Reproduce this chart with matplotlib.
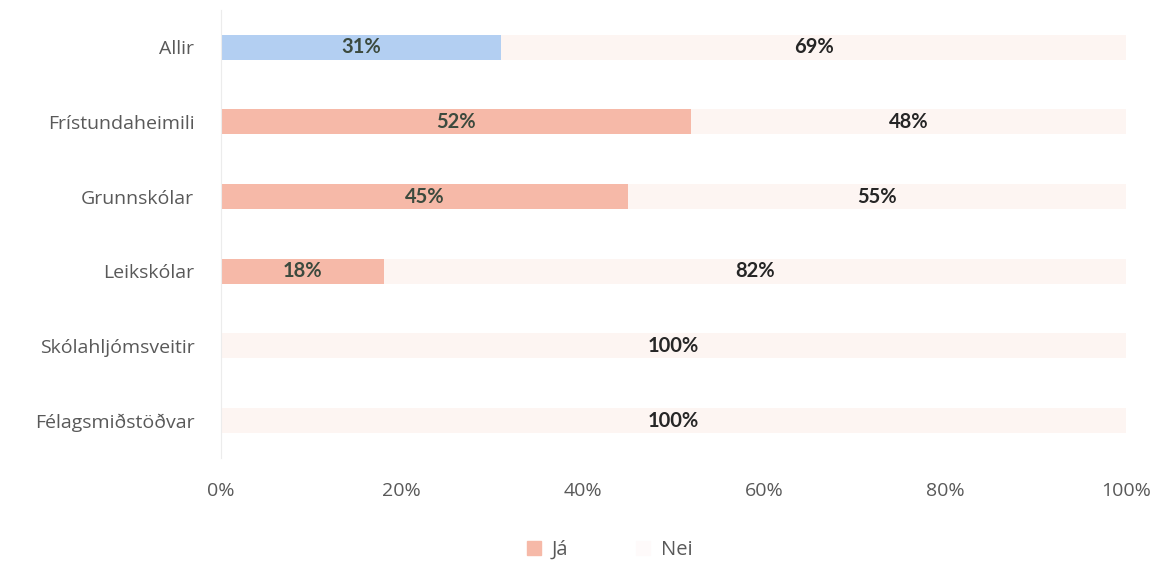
import matplotlib
matplotlib.use("Agg")
import matplotlib.pyplot as plt
from matplotlib.patches import Patch

categories = ["Allir", "Frístundaheimili", "Grunnskólar", "Leikskólar", "Skólahljómsveitir", "Félagsmiðstöðvar"]
ja = [31, 52, 45, 18, 0, 0]
nei = [69, 48, 55, 82, 100, 100]
xticks = [0, 20, 40, 60, 80, 100]
series_names = ["Já", "Nei"]

ja_colors = ["#b3cff2"] + ["#f6b9a8"] * 5
nei_color = "#fdf5f2"

plt.rcParams['font.family'] = ['Open Sans', 'DejaVu Sans']
fig = plt.figure(figsize=(11.68, 5.65), dpi=100)
ax = fig.add_axes([0.189, 0.1894, 0.775, 0.793])

y = list(range(len(categories)))
ax.barh(y, ja, height=0.335, color=ja_colors)
ax.barh(y, nei, left=ja, height=0.335, color=nei_color)

for i in y:
    if ja[i] > 0:
        ax.text(ja[i] / 2, i, f"{ja[i]}%", ha="center", va="center",
                fontsize=14.5, fontweight="bold", color="#3c4a3e",
                family=["Lato", "DejaVu Sans"])
    if nei[i] > 0:
        ax.text(ja[i] + nei[i] / 2, i, f"{nei[i]}%", ha="center", va="center",
                fontsize=14.5, fontweight="bold", color="#262626",
                family=["Lato", "DejaVu Sans"])

ax.set_xlim(0, 100)
ax.set_ylim(5.5, -0.5)
ax.set_yticks(y)
ax.set_yticklabels(categories)
ax.set_xticks(xticks)
ax.set_xticklabels([f"{t}%" for t in xticks])
ax.tick_params(axis="both", length=0, labelsize=14, colors="#595959")
ax.tick_params(axis="y", pad=19)
ax.tick_params(axis="x", pad=17)
for s in ["top", "right", "bottom"]:
    ax.spines[s].set_visible(False)
ax.spines["left"].set_color("#ececec")

handles = [Patch(color="#f6b9a8", label=series_names[0]),
           Patch(color="#fefafa", label=series_names[1])]
fig.legend(handles=handles, loc="center", bbox_to_anchor=(0.522, 0.027), ncol=2,
           frameon=False, fontsize=14.5, labelcolor="#595959",
           handlelength=0.7, handleheight=0.7, columnspacing=3.4, handletextpad=0.5)

fig.savefig("out.png", dpi=100)
